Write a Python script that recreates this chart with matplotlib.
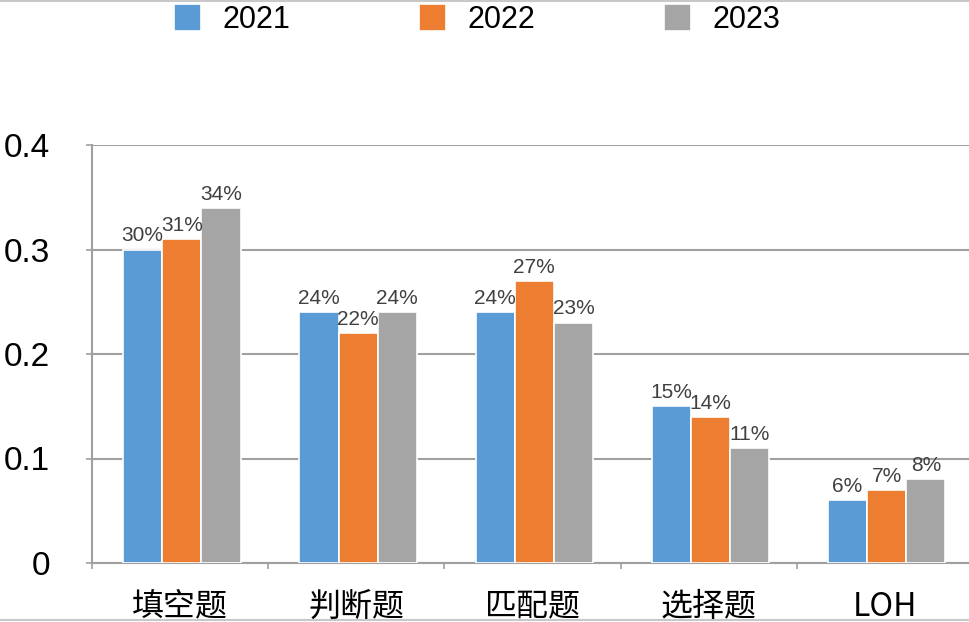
import numpy as np
import matplotlib.pyplot as plt
from matplotlib.lines import Line2D

categories = ["填空题", "判断题", "匹配题", "选择题", "LOH"]
years = ["2021", "2022", "2023"]
v2021 = [0.30, 0.24, 0.24, 0.15, 0.06]
v2022 = [0.31, 0.22, 0.27, 0.14, 0.07]
v2023 = [0.34, 0.24, 0.23, 0.11, 0.08]
colors = ["#5B9BD5", "#ED7D31", "#A5A5A5"]

plt.rcParams['font.family'] = ["Liberation Sans", "Noto Sans CJK SC", "DejaVu Sans"]

fig = plt.figure(figsize=(9.7, 6.22), dpi=100)
ax = fig.add_axes([92 / 970, 1 - 563 / 622, 881 / 970, 418 / 622])

x = np.arange(len(categories))
step = 0.222
for i, (vals, col, yr) in enumerate(zip([v2021, v2022, v2023], colors, years)):
    pos = x + (i - 1) * step + 0.01
    ax.bar(pos, vals, width=step, color=col, edgecolor="white", linewidth=1.2, label=yr, zorder=3)
    for p, v in zip(pos, vals):
        ax.text(p, v + 0.004, f"{round(v * 100)}%", ha="center", va="bottom",
                fontsize=15, color="#404040", zorder=4)

ax.set_xlim(-0.5, len(categories) - 0.5)
ax.set_ylim(0, 0.4)
ax.set_yticks([0, 0.1, 0.2, 0.3, 0.4])
ax.set_yticklabels(["0", "0.1", "0.2", "0.3", "0.4"])
ax.yaxis.grid(True, color="#A0A0A0", linewidth=1.5, zorder=0)

ax.set_xticks(np.arange(-0.5, len(categories)), minor=False)
ax.set_xticklabels([])
ax.set_xticks(x, minor=True)
ax.set_xticklabels(categories, minor=True, fontsize=23, family=["Noto Sans CJK SC", "DejaVu Sans"])
ax.tick_params(axis="x", which="major", length=4, color="#A0A0A0", width=1.2)
ax.tick_params(axis="x", which="minor", length=0, pad=20)
ax.tick_params(axis="y", length=4, color="#A0A0A0", width=1.2, labelsize=24, pad=26)

for s in ["top", "right"]:
    ax.spines[s].set_visible(False)
for s in ["left", "bottom"]:
    ax.spines[s].set_color("#A0A0A0")
    ax.spines[s].set_linewidth(1.5)

leg = fig.legend(loc="upper center", bbox_to_anchor=(0.492, 1.038), ncol=3, frameon=False,
                 prop={"size": 22}, handlelength=0.9, handleheight=1.0,
                 columnspacing=4.2, handletextpad=0.7)

fig.add_artist(Line2D([0, 1], [0.999, 0.999], color="#C8C8C8", linewidth=1.5))
fig.add_artist(Line2D([0, 1], [0.004, 0.004], color="#C8C8C8", linewidth=1.5))

fig.savefig("out.png", dpi=100)
